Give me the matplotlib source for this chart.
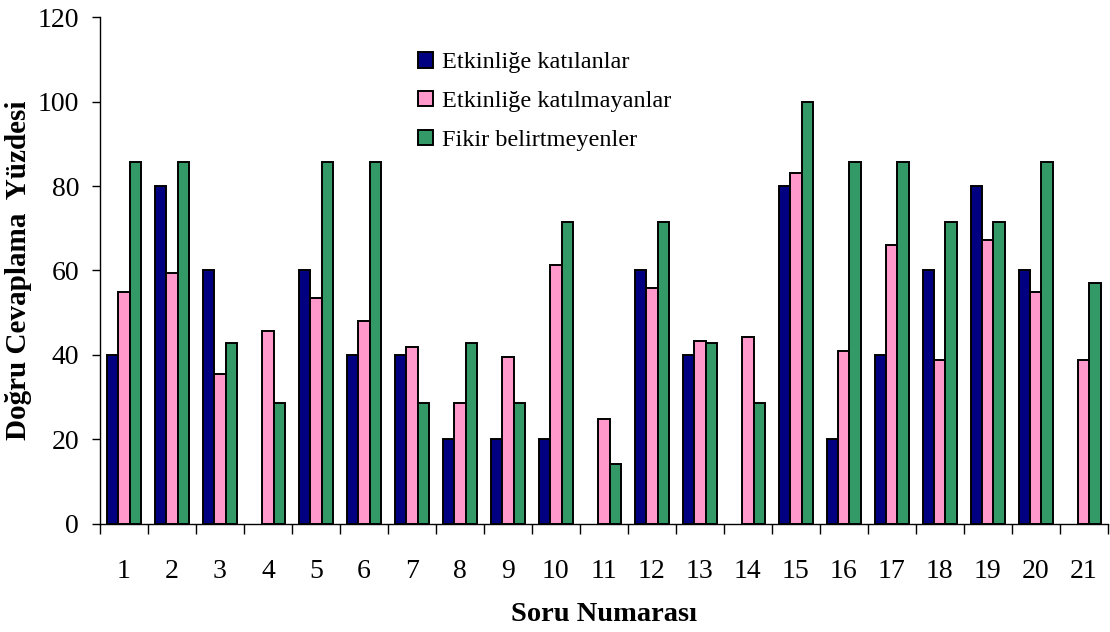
import numpy as np
import matplotlib.pyplot as plt

plt.rcParams['font.family'] = ['Liberation Serif', 'DejaVu Serif']

# Data
questions = [str(i) for i in range(1, 22)]
katilanlar = [40, 80, 60, 0, 60, 40, 40, 20, 20, 20, 0, 60, 40, 0, 80, 20, 40, 60, 80, 60, 0]
katilmayanlar = [54.8, 59.5, 35.5, 45.7, 53.4, 48.0, 42.0, 28.6, 39.6, 61.3, 24.9,
                 55.8, 43.4, 44.3, 83.0, 41.0, 66.0, 38.7, 67.2, 54.8, 38.7]
fikir_yok = [85.7, 85.7, 42.9, 28.6, 85.7, 85.7, 28.6, 42.9, 28.6, 71.4, 14.3,
             71.4, 42.9, 28.6, 100, 85.7, 85.7, 71.4, 71.4, 85.7, 57.1]
series_names = ['Etkinliğe katılanlar', 'Etkinliğe katılmayanlar', 'Fikir belirtmeyenler']
colors = ['#000080', '#FF99CC', '#339966']

fig = plt.figure(figsize=(11.1, 6.32), dpi=100)
ax = fig.add_axes([0.090, 0.171, 0.908, 0.802])

x = np.arange(1, len(questions) + 1)
w = 0.237
for i, (vals, name, c) in enumerate(zip([katilanlar, katilmayanlar, fikir_yok], series_names, colors)):
    # zero-valued bars are not drawn at all (no outline)
    lw = [1.4 if v > 0 else 0 for v in vals]
    ax.bar(x + (i - 1) * w, vals, width=w, color=c, edgecolor='black', linewidth=lw, label=name)

ax.set_xlim(0.5, 21.5)
ax.set_ylim(0, 120)
ax.set_yticks(np.arange(0, 121, 20))
ax.set_xticks(x)
ax.set_xticklabels(questions)
ax.set_xticks(np.arange(0.5, 22, 1), minor=True)
ax.tick_params(axis='x', which='major', length=0, pad=25, labelsize=20)
ax.tick_params(axis='x', which='minor', length=7, width=1, direction='out')
ax.tick_params(axis='y', length=6, width=1, direction='out', pad=9, labelsize=20)

for s in ['top', 'right']:
    ax.spines[s].set_visible(False)
ax.spines['left'].set_linewidth(1)
ax.spines['bottom'].set_linewidth(1)

ax.set_xlabel('Soru Numarası', fontsize=20.5, fontweight='bold', labelpad=13)
ax.set_ylabel('Doğru Cevaplama  Yüzdesi', fontsize=21, fontweight='bold', labelpad=4)

fig.legend(loc='upper left', bbox_to_anchor=(406 / 1110, 1 - 40 / 632), frameon=False,
           fontsize=17.5, handlelength=0.6, handleheight=0.6, handletextpad=0.4,
           labelspacing=0.72, borderpad=0)

fig.savefig('out.png', dpi=100)
